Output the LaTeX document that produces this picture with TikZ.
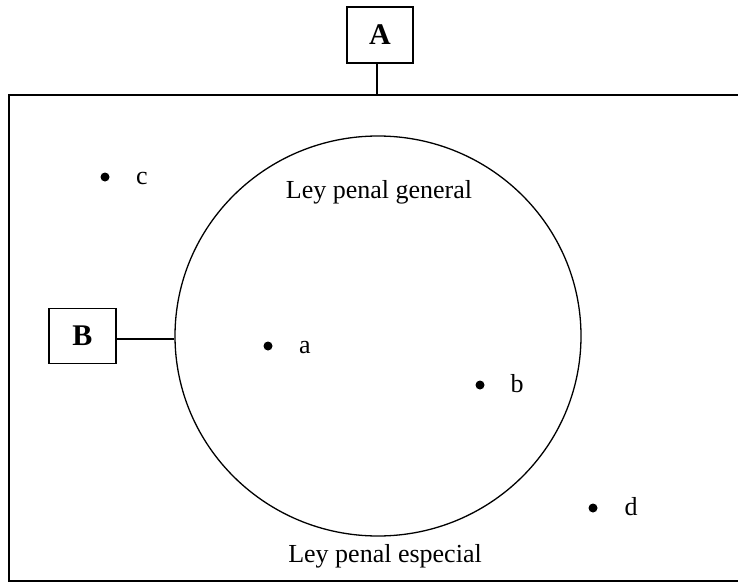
\documentclass[tikz,border=0pt]{standalone}
\usepackage{fontspec}
\setmainfont{Liberation Serif}
\usetikzlibrary{shapes.geometric}
\begin{document}
\begin{tikzpicture}[x=1pt,y=-1pt,line width=1.3pt,
  txt/.style={font=\fontsize{26}{30}\selectfont, inner sep=0pt},
  lbl/.style={txt, anchor=base},
  dot/.style={circle, fill=black, inner sep=0pt, minimum size=9pt},
  tag/.style={draw, font=\bfseries\fontsize{30}{34}\selectfont, minimum width=66pt, minimum height=56pt, inner sep=0pt}]
\useasboundingbox (0,0) rectangle (738,583);
\draw (738,95) -- (9,95) -- (9,581) -- (738,581);
\node[ellipse, draw, minimum width=406pt, minimum height=400pt, inner sep=0pt] (C) at (378,336) {};
\node[tag] (A) at (380,35) {A};
\coordinate (T) at (377,95);
\draw (T |- A.south) -- (T);
\node[tag, minimum width=67pt, minimum height=55pt] (B) at (82.5,336) {B};
\draw ([yshift=-3pt]B.east) -- ([yshift=-3pt]C.west);
\node[lbl] (gen) at (379,198) {Ley penal general};
\node[lbl] (esp) at (385,562) {Ley penal especial};
\node[dot] (c) at (105,177) {};
\node[lbl] (cl) at (142,184) {c};
\node[dot] (a) at (268,346) {};
\node[lbl] (al) at (305,353) {a};
\node[dot] (b) at (480,385) {};
\node[lbl] (bl) at (517,392) {b};
\node[dot] (d) at (593,508) {};
\node[lbl] (dl) at (631,515) {d};
\end{tikzpicture}
\end{document}
